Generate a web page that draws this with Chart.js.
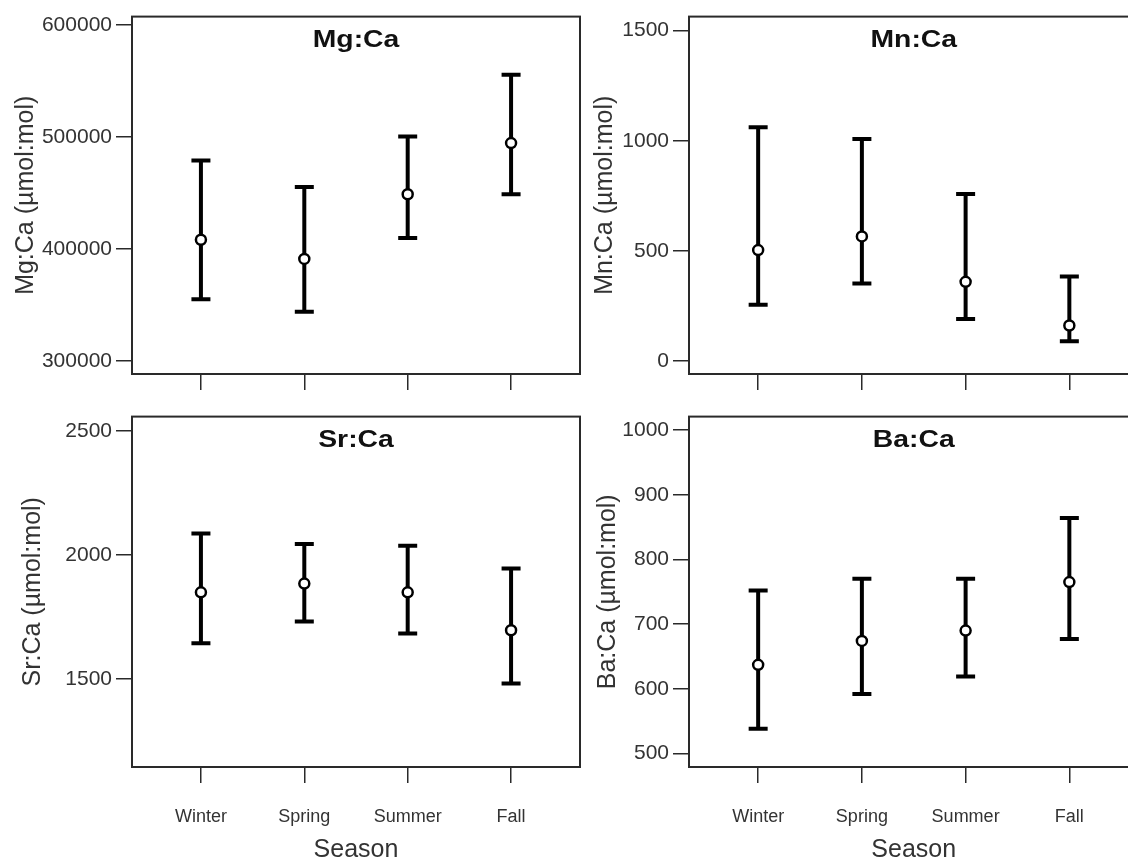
<!DOCTYPE html>
<html>
<head>
<meta charset="utf-8">
<script src="https://cdn.jsdelivr.net/npm/chart.js@4.4.0/dist/chart.umd.min.js"></script>
<style>
  html, body { margin: 0; padding: 0; background: #fff; overflow: hidden; }
  #wrap { position: relative; width: 1128px; height: 863px; overflow: hidden; background: #fff; }
  .cell { position: absolute; }
  .cell canvas { display: block; }
</style>
</head>
<body>
<div id="wrap">
  <div class="cell" style="left:0;top:0;width:600px;height:400px"><canvas id="mg" width="600" height="400"></canvas></div>
  <div class="cell" style="left:580px;top:0;width:572px;height:400px"><canvas id="mn" width="572" height="400"></canvas></div>
  <div class="cell" style="left:0;top:400px;width:600px;height:463px"><canvas id="sr" width="600" height="463"></canvas></div>
  <div class="cell" style="left:580px;top:400px;width:572px;height:463px"><canvas id="ba" width="572" height="463"></canvas></div>
</div>
<script>
var seasons = ['Winter', 'Spring', 'Summer', 'Fall'];

// mean and error bar ends per season (µmol:mol)
var mgMean = [408100, 391000, 448800, 494500];
var mgLow  = [355000, 343800, 409600, 448800];
var mgHigh = [479000, 455300, 500400, 555600];

var mnMean = [504, 566, 360, 162];
var mnLow  = [256, 352, 192, 90];
var mnHigh = [1061, 1008, 758, 384];

var srMean = [1850, 1885, 1850, 1697];
var srLow  = [1644, 1732, 1684, 1482];
var srHigh = [2087, 2045, 2038, 1946];

var baMean = [637, 674, 690, 765];
var baLow  = [538, 592, 619, 677];
var baHigh = [752, 770, 770, 864];

var mgTicks = [300000, 400000, 500000, 600000];
var mnTicks = [0, 500, 1000, 1500];
var srTicks = [1500, 2000, 2500];
var baTicks = [500, 600, 700, 800, 900, 1000];

var INK = '#2a2a2a';

// box around the plot area plus the panel name inside it
var panelFrame = {
  id: 'panelFrame',
  beforeDatasetsDraw: function(chart) {
    var a = chart.chartArea, ctx = chart.ctx;
    ctx.save();
    ctx.strokeStyle = INK;
    ctx.lineWidth = 2;
    ctx.strokeRect(a.left, a.top, a.right - a.left, a.bottom - a.top);
    ctx.restore();
  },
  afterDraw: function(chart, args, opts) {
    var a = chart.chartArea, ctx = chart.ctx;
    ctx.save();
    ctx.fillStyle = '#111';
    ctx.font = 'bold 24px "Liberation Sans", Arial, sans-serif';
    ctx.textAlign = 'center';
    ctx.textBaseline = 'alphabetic';
    ctx.translate((a.left + a.right) / 2, a.top + 30);
    ctx.scale(1.18, 1);
    ctx.fillText(opts.text, 0, 0);
    ctx.restore();
  }
};

function makePanel(id, name, mean, low, high, yTicks, p) {
  var bars = [];
  var pts = [];
  for (var i = 0; i < seasons.length; i++) {
    bars.push({x: i + 1, y: low[i]});
    bars.push({x: i + 1, y: high[i]});
    bars.push({x: i + 1, y: null});
    pts.push({x: i + 1, y: mean[i]});
  }

  new Chart(document.getElementById(id), {
    type: 'line',
    data: {
      datasets: [
        {
          label: 'mean',
          data: pts,
          showLine: false,
          pointStyle: 'circle',
          pointRadius: 5,
          pointBorderWidth: 2.5,
          pointBackgroundColor: '#fff',
          pointBorderColor: '#000',
          order: 0
        },
        {
          label: 'range',
          data: bars,
          spanGaps: false,
          borderColor: '#000',
          borderWidth: 4,
          pointStyle: 'line',
          pointRadius: 9.5,
          pointBorderWidth: 4,
          pointBorderColor: '#000',
          order: 1
        }
      ]
    },
    options: {
      responsive: false,
      animation: false,
      events: [],
      layout: { padding: p.pad },
      plugins: {
        legend: { display: false },
        tooltip: { enabled: false },
        panelFrame: { text: name }
      },
      scales: {
        x: {
          type: 'linear',
          min: 1 / 3,
          max: 14 / 3,
          afterBuildTicks: function(s) { s.ticks = [1, 2, 3, 4].map(function(v) { return {value: v}; }); },
          afterFit: function(s) { s.height = p.bottomAxis ? 96 : 16; },
          border: { display: false },
          grid: { drawOnChartArea: false, drawTicks: true, tickLength: 16, color: INK, lineWidth: 1.5 },
          ticks: {
            display: p.bottomAxis,
            padding: 23,
            color: '#333',
            font: { family: '"Liberation Sans", Arial, sans-serif', size: 18 },
            callback: function(v) { return seasons[v - 1]; }
          },
          title: {
            display: p.bottomAxis,
            text: 'Season',
            color: '#333',
            padding: { top: 0, bottom: 0 },
            font: { family: '"Liberation Sans", Arial, sans-serif', size: 25, lineHeight: 1.05 }
          }
        },
        y: {
          min: p.yMin,
          max: p.yMax,
          afterBuildTicks: function(s) { s.ticks = yTicks.map(function(v) { return {value: v}; }); },
          afterFit: function(s) { s.width = p.yWidth; },
          border: { display: false },
          grid: { drawOnChartArea: false, drawTicks: true, tickLength: 16, color: INK, lineWidth: 1.5 },
          ticks: {
            padding: 4,
            color: '#333',
            font: { family: '"Liberation Sans", Arial, sans-serif', size: 21 },
            callback: function(v) { return String(v); }
          },
          title: {
            display: true,
            text: name + ' (µmol:mol)',
            color: '#333',
            padding: { top: p.titlePad, bottom: 0 },
            font: { family: '"Liberation Sans", Arial, sans-serif', size: 25 }
          }
        }
      }
    },
    plugins: [panelFrame]
  });
}

// the right-hand panels run past the page edge on purpose
makePanel('mg', 'Mg:Ca', mgMean, mgLow, mgHigh, mgTicks,
  { yMin: 288200, yMax: 607500, yWidth: 132, titlePad: 11, bottomAxis: false,
    pad: { left: 0, top: 13, right: 20, bottom: 10 } });
makePanel('mn', 'Mn:Ca', mnMean, mnLow, mnHigh, mnTicks,
  { yMin: -58, yMax: 1563, yWidth: 109, titlePad: 10, bottomAxis: false,
    pad: { left: 0, top: 13, right: 0, bottom: 10 } });
makePanel('sr', 'Sr:Ca', srMean, srLow, srHigh, srTicks,
  { yMin: 1145, yMax: 2559, yWidth: 132, titlePad: 18, bottomAxis: true,
    pad: { left: 0, top: 6, right: 20, bottom: 0 } });
makePanel('ba', 'Ba:Ca', baMean, baLow, baHigh, baTicks,
  { yMin: 479, yMax: 1021, yWidth: 109, titlePad: 13, bottomAxis: true,
    pad: { left: 0, top: 6, right: 0, bottom: 0 } });
</script>
</body>
</html>
